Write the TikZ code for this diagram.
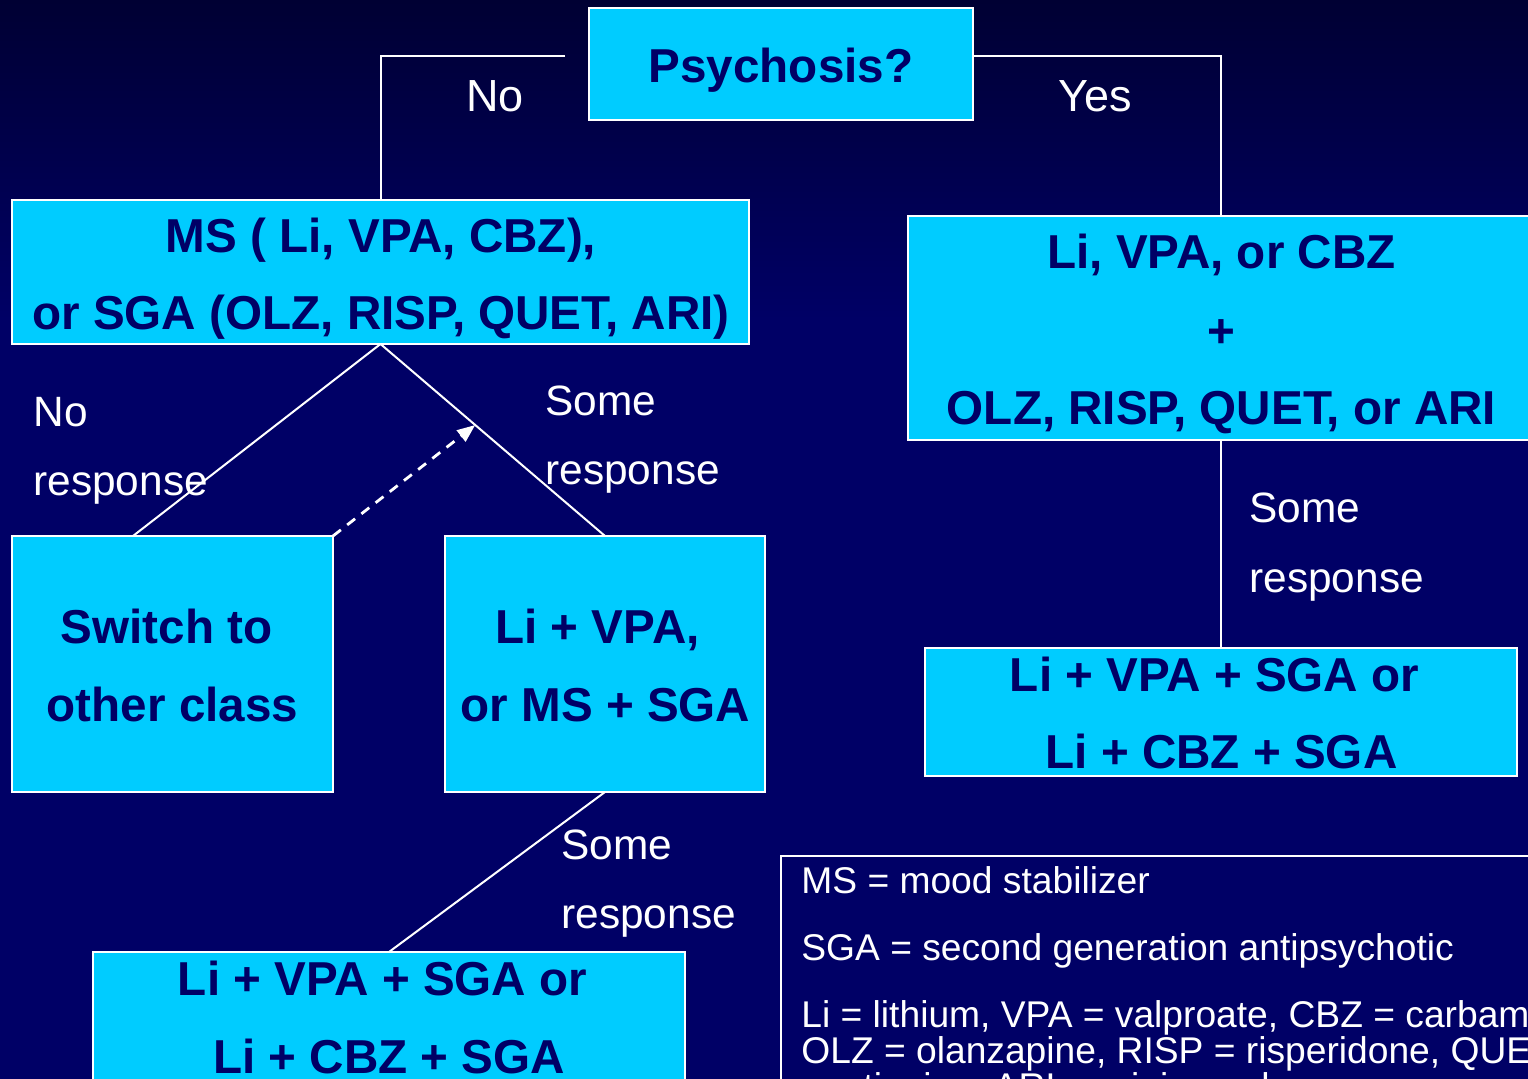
\documentclass[tikz,border=0pt]{standalone}
\usepackage{fontspec}
\setmainfont{Liberation Sans}
\usetikzlibrary{calc,arrows.meta}
\definecolor{bgtop}{HTML}{000033}
\definecolor{bgbot}{HTML}{000066}
\definecolor{boxfill}{HTML}{00CCFF}
\definecolor{boxtext}{HTML}{000066}
\begin{document}
\begin{tikzpicture}[x=0.5pt,y=-0.5pt,
  box/.style={rectangle, draw=white, line width=1pt, fill=boxfill, inner sep=0pt, outer sep=0pt},
  legbox/.style={rectangle, draw=white, line width=1pt, inner sep=0pt, outer sep=0pt},
  conn/.style={draw=white, line width=1pt},
  dasharrow/.style={draw=white, line width=1.4pt, dash pattern=on 5pt off 4pt, -{Triangle[length=9pt,width=7pt]}},
  bt/.style={text=boxtext, font=\fontsize{23.8}{28}\selectfont\bfseries, anchor=base, inner sep=0pt},
  yn/.style={text=white, font=\fontsize{22.5}{27}\selectfont, anchor=base, inner sep=0pt},
  lab/.style={text=white, font=\fontsize{21.2}{25}\selectfont, anchor=base west, inner sep=0pt},
  leg/.style={text=white, font=\fontsize{18.6}{22}\selectfont, anchor=base west, inner sep=0pt}]
\useasboundingbox (0,0) rectangle (1528,1079);
\clip (0,0) rectangle (1528,1079);
\fill[top color=bgtop, bottom color=bgbot] (0,0) rectangle (1528,320);
\fill[bgbot] (0,319) rectangle (1528,1079);

% boxes
\node[box, minimum width=192pt, minimum height=56pt] (psy) at (781,64) {};
\node[box, minimum width=368.5pt, minimum height=72pt] (ms) at (380.5,272) {};
\node[box, minimum width=313pt, minimum height=112pt] (rb) at (1221,328) {};
\node[box, minimum width=160.5pt, minimum height=128pt] (sw) at (172.5,664) {};
\node[box, minimum width=160pt, minimum height=128pt] (lv) at (605,664) {};
\node[box, minimum width=296pt, minimum height=74pt] (bl) at (389,1026) {};
\node[box, minimum width=296pt, minimum height=64pt] (rbb) at (1221,712) {};
\node[legbox, minimum width=379.5pt, minimum height=122pt] (leg) at (1160.5,978) {};

% connectors
\draw[conn] ($(psy.west)+(-24,-8)$) -| (ms.north);
\draw[conn] ($(psy.east)+(0,-8)$) -| (rb.north);
\draw[conn] (ms.south) -- ($(sw.north west)+(121,0)$);
\draw[conn] (ms.south) -- (lv.north);
\draw[conn] (lv.south) -- (bl.north);
\draw[conn] (rb.south) -- (rbb.north);
\path (ms.south) -- (lv.north) coordinate[pos=0.422] (hit);
\draw[dasharrow] (sw.north east) -- (hit);

% box texts
\node[bt] (tpsy) at (781,83) {Psychosis?};
\node[bt] (tms1) at (381,253) {MS ( Li, VPA, CBZ),};
\node[bt] (tms2) at (381,330) {or SGA (OLZ, RISP, QUET, ARI)};
\node[bt] (trb1) at (1221.5,269) {Li, VPA, or CBZ};
\node[bt] (trb2) at (1221.5,348) {+};
\node[bt] (trb3) at (1221.5,425) {OLZ, RISP, QUET, or ARI};
\node[bt] (tsw1) at (166.5,644) {Switch to};
\node[bt] (tsw2) at (172.5,722) {other class};
\node[bt] (tlv1) at (597.5,644) {Li + VPA,};
\node[bt] (tlv2) at (605.5,722) {or MS + SGA};
\node[bt] (tbl1) at (382.5,996) {Li + VPA + SGA or};
\node[bt] (tbl2) at (389,1073) {Li + CBZ + SGA};
\node[bt] (trr1) at (1214.5,692) {Li + VPA + SGA or};
\node[bt] (trr2) at (1221.5,769) {Li + CBZ + SGA};

% labels
\node[yn] (lno) at (495,112) {No};
\node[yn] (lyes) at (1095,112) {Yes};
\node[lab] (nr1) at (33,427) {No};
\node[lab] (nr2) at (33,496) {response};
\node[lab] (sr1) at (545,416) {Some};
\node[lab] (sr2) at (545,485) {response};
\node[lab] (sr3) at (1249,523) {Some};
\node[lab] (sr4) at (1249,593) {response};
\node[lab] (sr5) at (561,860) {Some};
\node[lab] (sr6) at (561,929) {response};

% legend
\node[leg] (lg1) at (801,894) {MS = mood stabilizer};
\node[leg] (lg2) at (801,961) {SGA = second generation antipsychotic};
\node[leg] (lg3) at (801,1028) {Li = lithium, VPA = valproate, CBZ = carbamazepine,};
\node[leg] (lg4) at (801,1064) {OLZ = olanzapine, RISP = risperidone, QUET =};
\node[leg] (lg5) at (801,1100) {quetiapine, ARI = aripiprazole};
\end{tikzpicture}
\end{document}
